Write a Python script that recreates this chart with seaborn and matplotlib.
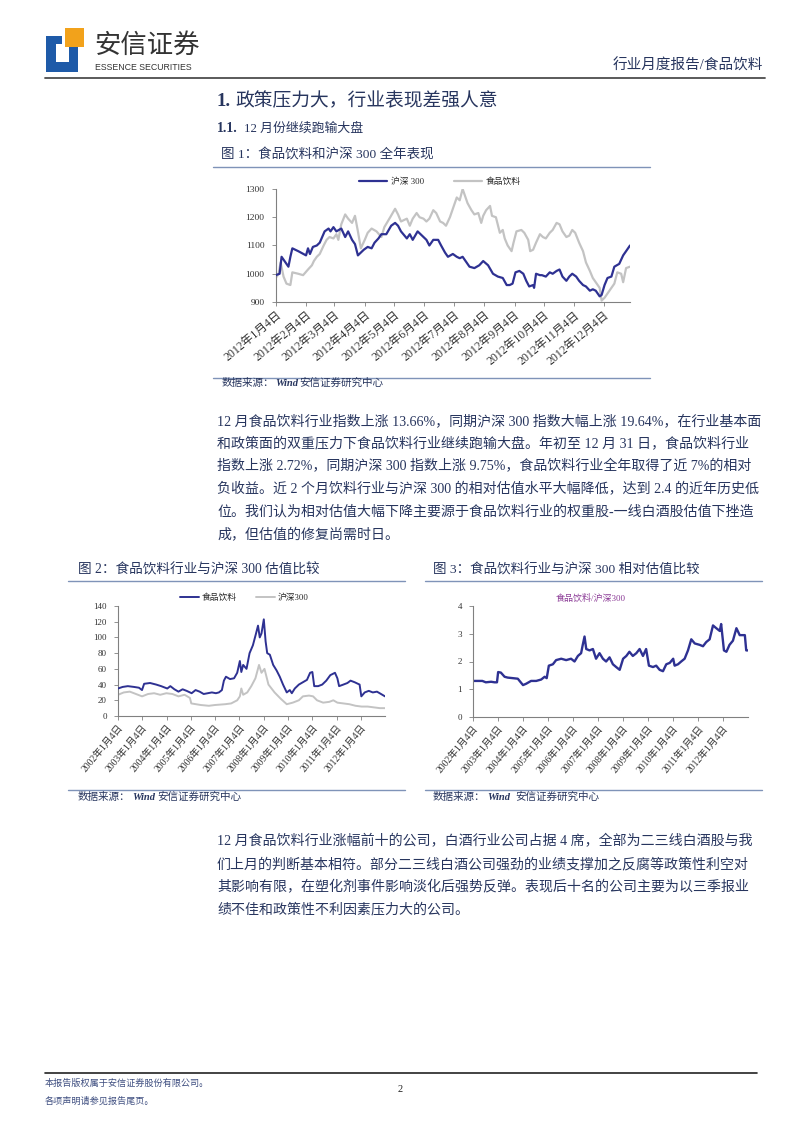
import numpy as np
import pandas as pd
import matplotlib
matplotlib.use('Agg')
import matplotlib.pyplot as plt
from matplotlib.lines import Line2D
from matplotlib.patches import Rectangle
import seaborn as sns

# ---------------- data ----------------
# Figure 1: 2012 daily indices (day offset from 2012-01-04)
hs300_2012_day = [0,4,6,10,13,15,17,23,31,33,35,38,42,45,50,54,56,59,62,67,71,74,78,81,84,90,94,98,101,105,
                  108,113,118,122,125,128,134,137,140,145,151,154,157,161,166,169,173,176,181,185,188,191,195,198,203,208,212,217,222,227,
                  232,236,239,242,245,249,253,256,259,263,264,266,270,272,276,280,283,287,290,293,297,300,303,307,310,314,317,321,324,327,
                  331,333,336,339,343,346,351,355,358,362]
hs300_2012_val = [995,1000,1060,1040,1025,1060,1090,1080,1065,1090,1070,1095,1100,1110,1150,1160,1150,1165,1150,1160,
                  1130,1150,1120,1105,1065,1085,1095,1090,1110,1125,1140,1140,1170,1180,1170,1150,1125,1140,1120,1150,
                  1130,1120,1100,1120,1120,1100,1075,1060,1070,1060,1055,1060,1040,1025,1020,1030,1045,1030,1000,990,
                  985,960,960,965,1005,1010,1000,975,955,960,950,1000,995,995,990,1005,1000,1010,1015,990,
                  975,990,1000,990,975,960,955,940,945,940,920,925,960,985,990,1025,1035,1065,1080,1100]
food_2012_day = [0,3,5,8,11,15,17,23,28,33,37,39,42,45,49,52,55,59,62,64,67,71,74,78,81,84,87,91,94,98,
                 103,108,111,117,122,125,128,134,137,140,144,147,151,154,157,161,164,168,171,174,178,181,185,188,191,193,196,200,203,207,
                 210,212,215,219,221,225,229,232,234,237,241,243,246,251,254,258,260,263,266,270,273,276,280,283,287,290,293,297,300,303,
                 306,310,314,317,321,324,327,331,333,336,339,343,346,349,353,355,358,362]
food_2012_val = [985,1000,1040,990,965,960,1005,1000,995,1015,1030,1045,1060,1070,1100,1120,1130,1125,1140,1120,
                 1175,1210,1195,1180,1205,1150,1090,1120,1145,1160,1150,1130,1165,1200,1230,1210,1185,1195,1170,1195,
                 1215,1200,1195,1185,1195,1225,1215,1185,1180,1170,1200,1230,1270,1260,1300,1280,1250,1225,1210,1215,
                 1180,1205,1225,1240,1205,1200,1145,1155,1125,1100,1080,1110,1150,1155,1145,1120,1080,1085,1110,1140,
                 1130,1125,1145,1155,1180,1175,1150,1130,1135,1155,1145,1110,1080,1040,1010,985,970,950,905,915,
                 930,950,965,1005,1000,970,1020,1025]
fig1_ticks = ['2012-01-04','2012-02-04','2012-03-04','2012-04-04','2012-05-04','2012-06-04',
              '2012-07-04','2012-08-04','2012-09-04','2012-10-04','2012-11-04','2012-12-04']
fig1_tick_labels = ['2012年1月4日','2012年2月4日','2012年3月4日','2012年4月4日','2012年5月4日','2012年6月4日',
                    '2012年7月4日','2012年8月4日','2012年9月4日','2012年10月4日','2012年11月4日','2012年12月4日']

# Figure 2: PE of food & beverage vs HS300
pe_food_dates = ['2002-01-04','2002-03-15','2002-06-01','2002-09-01','2002-11-15','2002-12-31','2003-02-01','2003-05-01',
                 '2003-08-01','2003-10-15','2003-12-15','2004-01-15','2004-03-01','2004-05-01','2004-07-01','2004-09-01',
                 '2004-11-01','2005-01-15','2005-03-15','2005-05-15','2005-07-15','2005-09-15','2005-11-15','2006-01-15',
                 '2006-03-01','2006-04-15','2006-05-15','2006-06-15','2006-08-15','2006-10-15','2006-12-01','2007-01-10',
                 '2007-02-01','2007-03-01','2007-04-20','2007-06-05','2007-07-25','2007-09-10','2007-10-10','2007-11-05',
                 '2007-12-01','2008-01-05','2008-02-01','2008-02-25','2008-04-05','2008-05-25','2008-07-15','2008-09-01',
                 '2008-10-20','2008-12-15','2009-01-30','2009-03-01','2009-04-15','2009-06-15','2009-08-15','2009-10-15',
                 '2009-12-01','2010-01-04','2010-02-01','2010-04-01','2010-06-01','2010-08-01','2010-10-01','2010-12-10',
                 '2011-01-15','2011-02-10','2011-04-15','2011-06-15','2011-08-01','2011-10-01','2011-12-15','2012-01-10',
                 '2012-03-01','2012-05-01','2012-07-01','2012-09-01','2012-11-01','2012-12-31']
pe_food_vals = [35,37,38,37,36,33,41,42,40,38,36,35,38,34,31,34,32,29,33,31,28,29,30,29,
                30,33,45,50,47,48,55,70,56,65,60,80,90,105,115,100,105,123,95,80,78,65,58,50,
                40,30,33,29,35,40,43,46,55,56,38,38,40,45,52,55,48,38,40,42,45,43,40,25,
                30,32,30,31,28,25]
pe_hs300_dates = ['2002-01-04','2002-04-01','2002-07-01','2002-10-01','2003-01-01','2003-04-01','2003-07-01','2003-10-01',
                  '2004-01-01','2004-04-01','2004-07-01','2004-10-01','2004-12-20','2005-01-10','2005-06-01','2005-10-01',
                  '2006-01-01','2006-06-01','2006-09-01','2006-12-01','2007-01-10','2007-02-01','2007-03-01','2007-05-01',
                  '2007-07-01','2007-09-01','2007-10-25','2007-12-01','2008-01-15','2008-03-15','2008-06-15','2008-09-15',
                  '2008-12-15','2009-03-15','2009-06-15','2009-08-15','2009-11-15','2010-01-15','2010-03-15','2010-06-15',
                  '2010-09-15','2010-11-15','2011-01-15','2011-04-15','2011-07-15','2011-10-15','2012-01-15','2012-04-15',
                  '2012-07-15','2012-10-15','2012-12-31']
pe_hs300_vals = [27,30,31,28,25,28,29,27,29,28,25,27,23,16,14,13,14,15,16,20,25,35,27,30,
                 38,48,65,55,60,40,30,22,15,17,20,25,26,25,20,17,18,20,17,16,15,13,12,12,11,10,10]

# Figure 3: relative PE (food & beverage / HS300)
rel_dates = ['2002-01-04','2002-03-15','2002-05-20','2002-07-10','2002-09-25','2002-11-15','2002-12-20','2003-01-06',
             '2003-02-15','2003-04-10','2003-05-25','2003-08-08','2003-10-20','2003-11-15','2004-01-04','2004-02-20',
             '2004-05-01','2004-07-15','2004-09-25','2004-11-15','2004-12-15','2005-01-15','2005-03-15','2005-05-01',
             '2005-07-15','2005-09-25','2005-12-05','2006-01-25','2006-03-15','2006-05-01','2006-05-25','2006-06-20',
             '2006-07-15','2006-09-01','2006-10-20','2006-12-05','2007-01-25','2007-03-15','2007-05-01','2007-06-20',
             '2007-08-08','2007-09-25','2007-11-15','2008-01-04','2008-02-20','2008-04-05','2008-05-25','2008-07-15',
             '2008-09-01','2008-10-20','2008-12-05','2009-01-15','2009-03-15','2009-05-01','2009-06-20','2009-08-08',
             '2009-09-25','2009-11-15','2010-01-04','2010-01-25','2010-03-15','2010-05-01','2010-06-20','2010-08-08',
             '2010-09-25','2010-11-15','2011-01-25','2011-03-15','2011-05-01','2011-06-20','2011-08-08','2011-09-25',
             '2011-11-15','2011-12-05','2012-01-15','2012-02-20','2012-04-05','2012-05-25','2012-07-15','2012-09-01',
             '2012-10-20','2012-11-15','2012-12-05','2012-12-31']
rel_vals = [1.30,1.30,1.30,1.25,1.27,1.25,1.25,1.62,1.60,1.45,1.42,1.40,1.38,1.30,1.15,1.20,
            1.30,1.30,1.35,1.45,1.40,1.85,1.90,2.05,2.10,2.05,2.10,2.00,2.20,2.30,2.60,2.90,
            2.45,2.40,2.45,2.10,2.30,2.10,2.00,2.15,1.90,1.80,1.70,2.10,2.20,2.35,2.20,2.30,
            2.45,2.20,2.45,1.85,1.80,1.85,1.70,1.65,1.90,1.95,2.10,1.85,1.90,2.00,2.10,2.40,
            2.80,2.65,2.60,2.55,2.70,2.80,3.30,3.20,3.10,3.35,2.40,2.35,2.60,2.75,3.20,2.95,
            2.95,2.95,2.40,2.40]
decade_ticks = ['2002-01-04','2003-01-04','2004-01-04','2005-01-04','2006-01-04','2007-01-04',
                '2008-01-04','2009-01-04','2010-01-04','2011-01-04','2012-01-04']
decade_tick_labels = ['2002年1月4日','2003年1月4日','2004年1月4日','2005年1月4日','2006年1月4日','2007年1月4日',
                      '2008年1月4日','2009年1月4日','2010年1月4日','2011年1月4日','2012年1月4日']

# ---------------- style ----------------
sns.set_style('white')
FONT = ['Liberation Serif', 'Noto Sans CJK SC']
plt.rcParams['font.family'] = FONT
plt.rcParams['axes.unicode_minus'] = False

NAVY = '#2E3192'
GRAY = '#C3C3C3'
TEXT = '#27355E'
RULE = '#7F93B8'

W, H = 800, 1132
fig = plt.figure(figsize=(8, 11.32), dpi=100)


def fx(x):
    return x / W


def fy(y):
    return 1 - y / H


def ftext(x, y, s, size, color=TEXT, ha='left', **kw):
    fig.text(fx(x), fy(y), s, fontsize=size, color=color, va='center', ha=ha, **kw)


def hline(x0, x1, y, color, lw):
    fig.add_artist(Line2D([fx(x0), fx(x1)], [fy(y), fy(y)], color=color, lw=lw,
                          transform=fig.transFigure))


def add_axes(x0, y0, x1, y1):
    return fig.add_axes([fx(x0), fy(y1), (x1 - x0) / W, (y1 - y0) / H])


def style_ax(ax, ysize=6.5):
    for s in ['top', 'right']:
        ax.spines[s].set_visible(False)
    for s in ['left', 'bottom']:
        ax.spines[s].set_color('#808080')
        ax.spines[s].set_linewidth(0.8)
    ax.tick_params(axis='both', which='both', bottom=True, left=True, length=3, width=0.6,
                   color='#808080', labelcolor='#333333', direction='out')
    ax.tick_params(axis='y', labelsize=ysize, pad=5)
    ax.tick_params(axis='x', pad=2)
    ax.set_xlabel('')
    ax.set_ylabel('')
    ax.grid(False)


def set_xticks(ax, ticks, labels, rot, size):
    ax.set_xticks(pd.to_datetime(ticks))
    ax.set_xticklabels(labels, rotation=rot, ha='right', va='top', rotation_mode='anchor',
                       fontsize=size, color='#333333')


# ---------------- header ----------------
logo_blue = '#1E5AA8'
for (x0, y0, w, h) in [(46, 36, 10, 36), (46, 62, 32, 10), (69, 46, 9, 26), (46, 36, 16, 8)]:
    fig.add_artist(Rectangle((fx(x0), fy(y0 + h)), w / W, h / H, color=logo_blue,
                             transform=fig.transFigure, lw=0))
fig.add_artist(Rectangle((fx(65), fy(47)), 19 / W, 19 / H, color='#F2A21B',
                         transform=fig.transFigure, lw=0))
ftext(94, 45, '安信证券', 19, color='#333333', family=['Noto Sans CJK SC'], weight='medium')
ftext(95, 67, 'ESSENCE SECURITIES', 6.3, color='#333333', family=['Liberation Sans'])
ftext(763, 66, '行业月度报告/食品饮料', 10.5, ha='right')
hline(45, 765, 78, '#4D4D4D', 1.3)

ftext(217, 101, '1.', 13.5, weight='bold')
ftext(235, 101, '政策压力大，行业表现差强人意', 13.5)
ftext(217, 128, '1.1.', 10, weight='bold')
ftext(244, 128, '12 月份继续跑输大盘', 9.3)
ftext(221, 155, '图 1：食品饮料和沪深 300 全年表现', 9.7)
hline(213, 650, 167, RULE, 1.0)

# ---------------- figure 1 ----------------
base = pd.Timestamp('2012-01-04')
df_hs = pd.DataFrame({'date': base + pd.to_timedelta(hs300_2012_day, unit='D'), 'v': hs300_2012_val})
df_fd = pd.DataFrame({'date': base + pd.to_timedelta(food_2012_day, unit='D'), 'v': food_2012_val})
ax1 = add_axes(275.7, 189, 630, 302)
sns.lineplot(data=df_hs, x='date', y='v', ax=ax1, color=NAVY, lw=1.6, label='沪深 300', estimator=None)
sns.lineplot(data=df_fd, x='date', y='v', ax=ax1, color=GRAY, lw=1.6, label='食品饮料', estimator=None)
ax1.lines[0].set_zorder(3)
ax1.set_ylim(900, 1300)
ax1.set_yticks([900, 1000, 1100, 1200, 1300])
ax1.set_xlim(pd.Timestamp('2012-01-04'), pd.Timestamp('2012-12-31'))
style_ax(ax1, ysize=6.8)
set_xticks(ax1, fig1_ticks, fig1_tick_labels, 40, 8.5)
ax1.legend(loc='center', bbox_to_anchor=(fx(440), fy(182)), bbox_transform=fig.transFigure,
           ncol=2, frameon=False, fontsize=6.3, handlelength=3.2, handletextpad=0.4,
           columnspacing=3.5, borderpad=0)
hline(213, 650, 378, RULE, 1.0)
ftext(222, 383, '数据来源：', 7.6)
ftext(275, 383, 'Wind', 7.6, style='italic', weight='bold')
ftext(299, 383, '安信证券研究中心', 7.6)

# ---------------- paragraph 1 ----------------
para1 = ['12 月食品饮料行业指数上涨 13.66%，同期沪深 300 指数大幅上涨 19.64%，在行业基本面',
         '和政策面的双重压力下食品饮料行业继续跑输大盘。年初至 12 月 31 日，食品饮料行业',
         '指数上涨 2.72%，同期沪深 300 指数上涨 9.75%，食品饮料行业全年取得了近 7%的相对',
         '负收益。近 2 个月饮料行业与沪深 300 的相对估值水平大幅降低，达到 2.4 的近年历史低',
         '位。我们认为相对估值大幅下降主要源于食品饮料行业的权重股-一线白酒股估值下挫造',
         '成，但估值的修复尚需时日。']
for i, line in enumerate(para1):
    ftext(217, 421 + i * 22.8, line, 10.05)

# ---------------- figure 2 ----------------
ftext(78, 570, '图 2：食品饮料行业与沪深 300 估值比较', 9.8)
hline(68, 405, 581, RULE, 1.0)
df_pf = pd.DataFrame({'date': pd.to_datetime(pe_food_dates), 'v': pe_food_vals})
df_ph = pd.DataFrame({'date': pd.to_datetime(pe_hs300_dates), 'v': pe_hs300_vals})
ax2 = add_axes(118, 606, 385, 716)
sns.lineplot(data=df_pf, x='date', y='v', ax=ax2, color=NAVY, lw=1.4, label='食品饮料', estimator=None)
sns.lineplot(data=df_ph, x='date', y='v', ax=ax2, color=GRAY, lw=1.4, label='沪深300', estimator=None)
ax2.lines[0].set_zorder(3)
ax2.set_ylim(0, 140)
ax2.set_yticks(range(0, 141, 20))
ax2.set_xlim(pd.Timestamp('2002-01-04'), pd.Timestamp('2012-12-31'))
style_ax(ax2)
set_xticks(ax2, decade_ticks, decade_tick_labels, 50, 7)
ax2.legend(loc='center', bbox_to_anchor=(fx(244), fy(598)), bbox_transform=fig.transFigure,
           ncol=2, frameon=False, fontsize=6.3, handlelength=2.2, handletextpad=0.3,
           columnspacing=2.2, borderpad=0)
hline(68, 405, 790, RULE, 1.0)
ftext(78, 797, '数据来源：', 7.6)
ftext(132, 797, 'Wind', 7.6, style='italic', weight='bold')
ftext(157, 797, '安信证券研究中心', 7.6)

# ---------------- figure 3 ----------------
ftext(433, 570, '图 3：食品饮料行业与沪深 300 相对估值比较', 9.7)
hline(425, 762, 581, RULE, 1.0)
df_rel = pd.DataFrame({'date': pd.to_datetime(rel_dates), 'v': rel_vals})
ax3 = add_axes(473, 606, 748, 717)
sns.lineplot(data=df_rel, x='date', y='v', ax=ax3, color=NAVY, lw=1.7, estimator=None)
ax3.set_ylim(0, 4)
ax3.set_yticks(range(0, 5))
ax3.set_xlim(pd.Timestamp('2002-01-04'), pd.Timestamp('2012-12-31'))
style_ax(ax3)
set_xticks(ax3, decade_ticks, decade_tick_labels, 50, 7)
ftext(591, 598, '食品饮料/沪深300', 6.5, color='#8B3A96', ha='center')
hline(425, 762, 790, RULE, 1.0)
ftext(433, 797, '数据来源：', 7.6)
ftext(487, 797, 'Wind', 7.6, style='italic', weight='bold')
ftext(515, 797, '安信证券研究中心', 7.6)

# ---------------- paragraph 2 ----------------
para2 = ['12 月食品饮料行业涨幅前十的公司，白酒行业公司占据 4 席，全部为二三线白酒股与我',
         '们上月的判断基本相符。部分二三线白酒公司强劲的业绩支撑加之反腐等政策性利空对',
         '其影响有限，在塑化剂事件影响淡化后强势反弹。表现后十名的公司主要为以三季报业',
         '绩不佳和政策性不利因素压力大的公司。']
for i, line in enumerate(para2):
    ftext(217, 841 + i * 23, line, 10.05)

# ---------------- footer ----------------
hline(45, 757, 1073, '#222222', 1.2)
ftext(45, 1083, '本报告版权属于安信证券股份有限公司。', 6.6, color='#3E4E80')
ftext(45, 1101, '各项声明请参见报告尾页。', 6.6, color='#3E4E80')
ftext(400, 1089, '2', 7.5, color='#222222', ha='center')

fig.savefig('out.png', dpi=100)
